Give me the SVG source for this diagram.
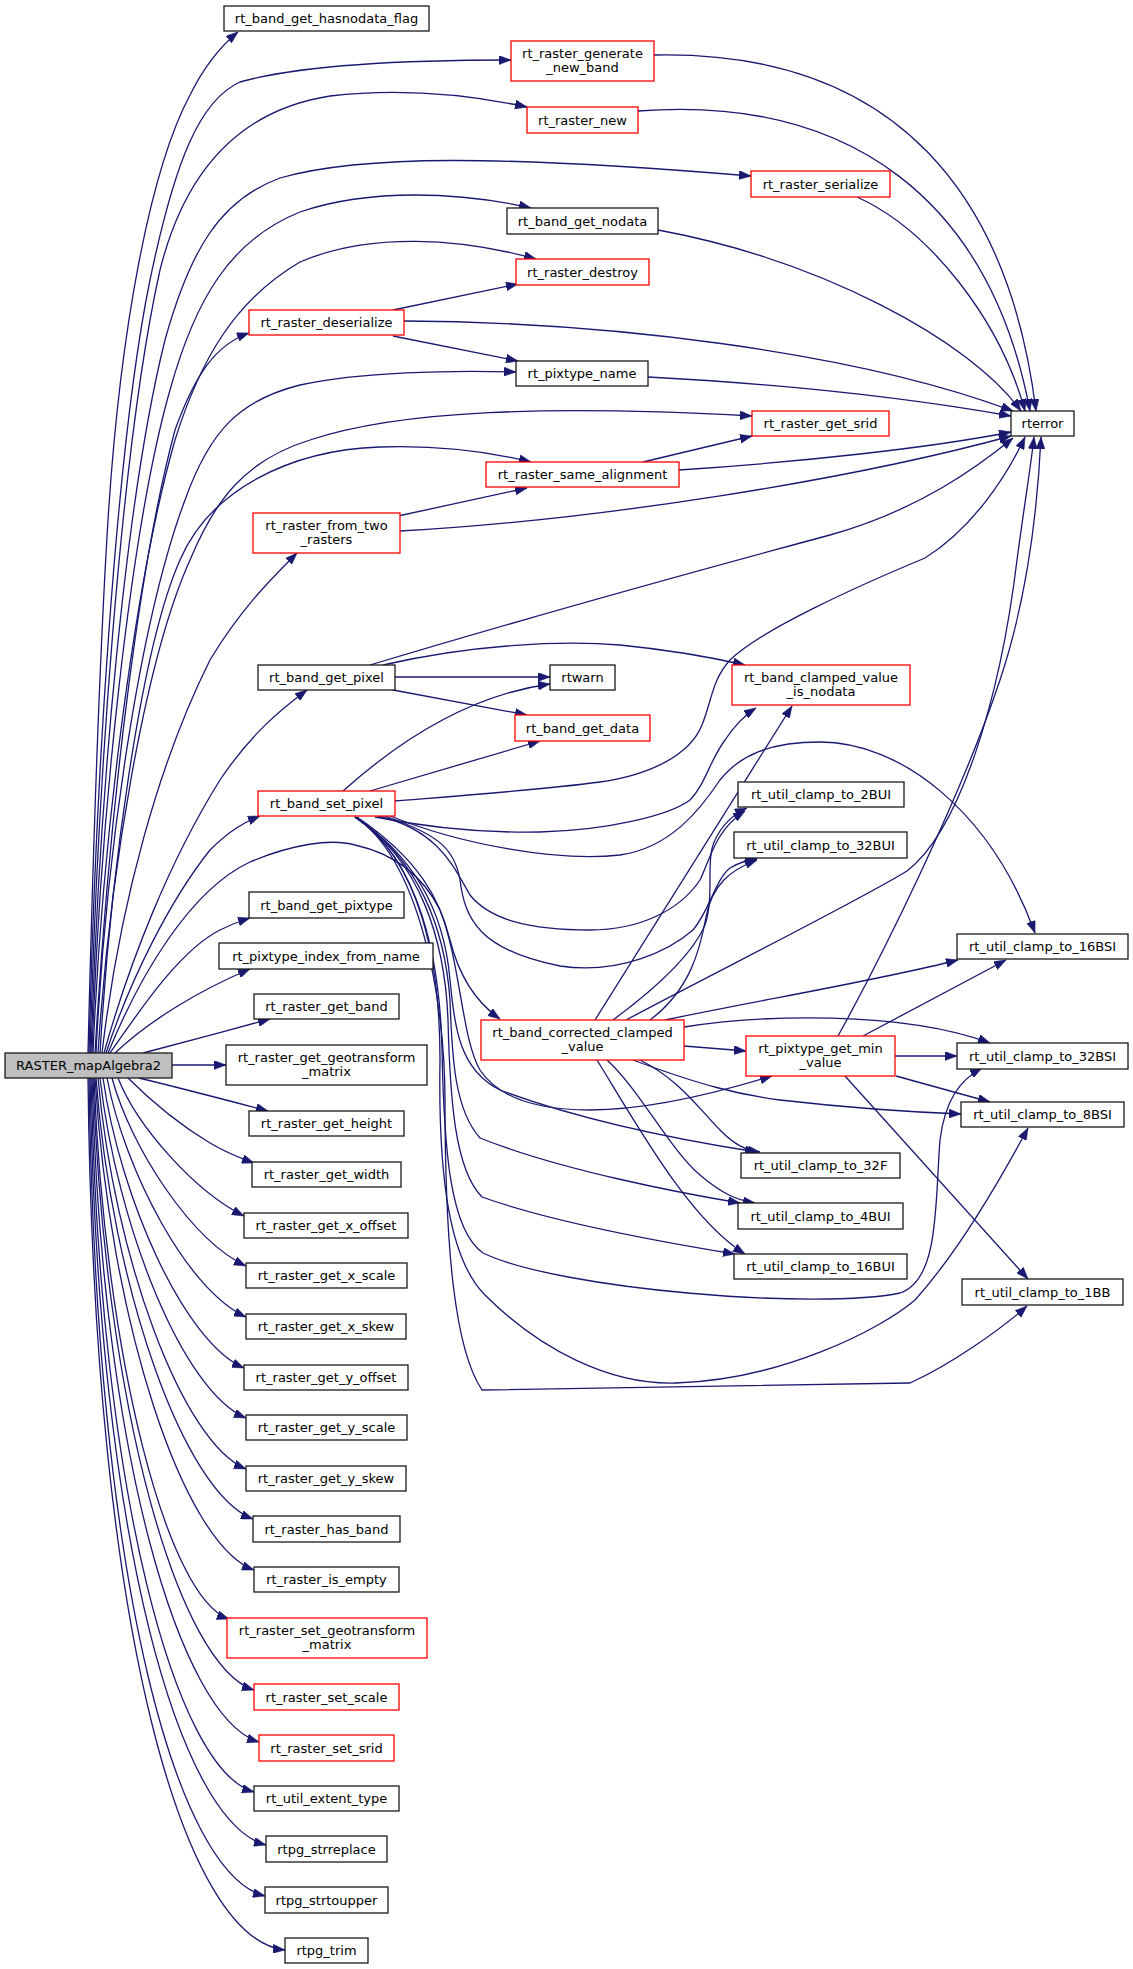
<svg xmlns="http://www.w3.org/2000/svg" width="1133" height="1969" viewBox="0 0 1133 1969">
<defs>
<marker id="ah" markerUnits="userSpaceOnUse" markerWidth="12" markerHeight="9" refX="12" refY="4.5" orient="auto">
<path d="M0,0 L12,4.5 L0,9 Z" fill="#191970" stroke="#191970" stroke-width="0.5"/>
</marker>
</defs>
<style>
.n rect{fill:#ffffff;stroke:#1a1a1a;stroke-width:1.3}
.r rect{fill:#ffffff;stroke:#ff0000;stroke-width:1.3}
.root rect{fill:#bfbfbf;stroke:#1a1a1a;stroke-width:1.3}
text{font-family:"DejaVu Sans","Liberation Sans",sans-serif;font-size:13px;fill:#000;text-anchor:middle}
#edges path{fill:none;stroke:#191970;stroke-width:1.3;marker-end:url(#ah)}
</style>
<rect width="1133" height="1969" fill="#ffffff"/>
<g id="edges">
<path d="M88,1053 C93,850 100,650 108,520 C120,330 150,170 190,95 C205,65 222,45 238,32"/>
<path d="M89,1053 C95,800 115,450 150,280 C175,160 200,100 240,82 C300,65 400,60 511,60"/>
<path d="M90,1053 C97,800 120,450 160,270 C185,170 240,110 330,96 C400,88 470,95 527,107"/>
<path d="M91,1053 C99,800 125,500 165,340 C190,250 220,200 280,178 C360,155 500,155 751,176"/>
<path d="M92,1053 C100,820 130,530 170,390 C195,300 230,240 300,212 C370,188 460,192 531,208"/>
<path d="M93,1053 C102,840 135,580 175,440 C200,360 235,300 300,262 C370,232 460,238 536,259"/>
<path d="M95,1053 C110,800 140,560 175,430 C195,375 215,345 249,333"/>
<path d="M96,1053 C106,850 140,620 185,500 C210,430 240,400 300,385 C360,372 450,370 516,372"/>
<path d="M98,1053 C110,870 145,660 190,560 C215,500 245,460 310,440 C400,410 550,405 752,416"/>
<path d="M100,1053 C110,880 140,650 180,560 C210,490 290,450 380,447 C440,445 490,452 531,462"/>
<path d="M102,1053 C120,900 160,760 210,660 C240,610 270,580 297,553"/>
<path d="M104,1053 C130,960 170,860 220,780 C250,735 280,710 307,690"/>
<path d="M106,1053 C130,980 170,900 210,850 C230,830 245,822 260,816"/>
<path d="M108,1053 C140,975 190,890 250,862 C290,845 330,838 355,845 C400,855 425,880 440,910 C460,960 462,1040 480,1070 C500,1100 540,1110 590,1110 C650,1110 720,1092 772,1076"/>
<path d="M110,1053 C140,1010 180,950 220,930 C230,925 240,921 250,918"/>
<path d="M115,1053 C150,1020 200,990 250,969"/>
<path d="M143,1053 C180,1043 230,1030 270,1019"/>
<path d="M172,1065 L226,1065"/>
<path d="M139,1078 C180,1088 230,1101 268,1111"/>
<path d="M128,1078 C150,1100 180,1125 210,1143 C225,1152 240,1158 254,1163"/>
<path d="M118,1078 C137,1126 194,1191 244,1216"/>
<path d="M112,1078 C131,1148 191,1240 246,1266"/>
<path d="M107,1078 C125,1172 188,1291 246,1317"/>
<path d="M103,1078 C120,1198 184,1342 244,1368"/>
<path d="M100,1078 C117,1226 183,1392 246,1418"/>
<path d="M98,1078 C114,1256 182,1443 246,1469"/>
<path d="M96,1078 C112,1288 184,1493 253,1519"/>
<path d="M95,1078 C110,1322 183,1544 254,1570"/>
<path d="M94,1078 C105,1358 167,1598 229,1619"/>
<path d="M93,1078 C105,1411 179,1666 254,1690"/>
<path d="M92,1078 C102,1454 180,1718 259,1742"/>
<path d="M91,1078 C100,1497 176,1770 254,1792"/>
<path d="M90,1078 C98,1544 180,1822 266,1845"/>
<path d="M89,1078 C96,1592 178,1874 265,1896"/>
<path d="M88,1078 C94,1644 186,1940 285,1950"/>
<path d="M654,55 C900,50 1010,200 1036,411"/>
<path d="M638,111 C850,95 990,200 1030,411"/>
<path d="M857,197 C930,230 1000,320 1025,411"/>
<path d="M658,230 C820,260 970,340 1021,411"/>
<path d="M404,321 C600,322 850,350 1013,411"/>
<path d="M393,310 L518,284"/>
<path d="M393,336 L518,361"/>
<path d="M648,377 C800,385 920,400 1011,416"/>
<path d="M643,462 L752,436"/>
<path d="M679,470 C800,462 930,448 1011,432"/>
<path d="M398,516 L527,488"/>
<path d="M400,531 C600,520 850,480 1011,436"/>
<path d="M370,665 C520,620 700,570 830,535 C920,510 980,465 1013,438"/>
<path d="M383,665 C470,645 560,640 620,645 C670,650 710,657 745,665"/>
<path d="M395,677 L550,677"/>
<path d="M393,690 L527,715"/>
<path d="M343,791 C400,740 470,695 550,684"/>
<path d="M370,791 L540,741"/>
<path d="M394,801 C470,795 540,790 600,782 C650,775 690,755 702,725 C712,700 712,680 730,660 C760,630 860,585 925,558 C970,530 1005,480 1025,437"/>
<path d="M375,817 C430,828 490,833 540,832 C610,830 670,815 690,800 C705,785 710,760 725,740 C735,725 745,715 756,708"/>
<path d="M378,816 C440,830 455,870 470,895 C490,920 530,930 590,930 C640,930 680,910 700,880 C710,860 715,830 745,811"/>
<path d="M385,816 C440,835 455,850 460,880 C465,920 480,950 560,966 C620,975 670,950 693,930 C710,910 715,880 730,868 C740,862 748,860 757,859"/>
<path d="M388,815 C460,845 560,862 620,855 C670,848 700,810 720,780 C740,755 770,742 820,742 C900,742 990,810 1035,933"/>
<path d="M357,817 C420,860 440,900 450,940 C460,980 480,1005 500,1019"/>
<path d="M355,817 C420,860 445,920 450,980 C455,1030 460,1070 500,1090 C580,1120 680,1140 757,1152"/>
<path d="M355,817 C420,860 445,930 450,1000 C452,1060 455,1110 480,1138 C560,1170 680,1193 740,1203"/>
<path d="M355,817 C420,860 445,940 448,1020 C450,1100 455,1170 482,1197 C560,1225 680,1245 735,1254"/>
<path d="M355,817 C420,860 440,960 442,1050 C444,1150 450,1230 483,1253 C560,1290 820,1310 900,1293 C940,1280 935,1200 940,1140 C945,1100 960,1080 982,1068"/>
<path d="M355,817 C420,860 440,960 440,1060 C438,1180 450,1260 485,1295 C540,1350 610,1385 676,1383 C780,1380 880,1330 915,1300 C960,1250 1000,1180 1028,1128"/>
<path d="M355,817 C420,860 445,1000 445,1100 C445,1250 455,1350 482,1390 L910,1383 C950,1365 1000,1330 1027,1306"/>
<path d="M595,1020 L792,706"/>
<path d="M613,1020 C640,1000 690,960 705,925 C715,895 705,860 715,840 C722,825 732,815 747,808"/>
<path d="M650,1020 C690,990 700,950 706,917 C712,885 730,870 757,860"/>
<path d="M626,1020 C720,970 860,900 907,871 C960,830 1000,700 1017,560 C1025,500 1031,465 1034,437"/>
<path d="M665,1020 C760,1000 880,980 958,960"/>
<path d="M684,1027 C760,1015 900,1010 990,1043"/>
<path d="M684,1046 L746,1051"/>
<path d="M633,1060 C700,1085 740,1095 780,1100 C850,1108 910,1112 961,1114"/>
<path d="M640,1060 C680,1080 700,1110 720,1130 C735,1145 745,1150 760,1152"/>
<path d="M607,1060 C640,1090 670,1150 700,1175 C720,1192 735,1200 755,1203"/>
<path d="M597,1060 C640,1130 690,1220 745,1254"/>
<path d="M838,1036 C880,960 960,800 1000,680 C1030,590 1038,500 1041,437"/>
<path d="M863,1036 L1006,960"/>
<path d="M895,1056 L957,1056"/>
<path d="M896,1076 L990,1102"/>
<path d="M845,1076 L1028,1279"/>
</g>
<g id="n_root" class="root"><rect x="5" y="1053" width="167" height="25"/><text x="88.5" y="1070">RASTER_mapAlgebra2</text></g>
<g id="n_hasnodata" class="n"><rect x="224" y="6" width="205" height="25"/><text x="326.5" y="23">rt_band_get_hasnodata_flag</text></g>
<g id="n_generate" class="r"><rect x="511" y="41" width="143" height="40"/><text x="582.5" y="57.5">rt_raster_generate</text><text x="582.5" y="72">_new_band</text></g>
<g id="n_raster_new" class="r"><rect x="527" y="107" width="111" height="26"/><text x="582.5" y="124.6">rt_raster_new</text></g>
<g id="n_serialize" class="r"><rect x="751" y="171" width="139" height="26"/><text x="820.5" y="188.6">rt_raster_serialize</text></g>
<g id="n_get_nodata" class="n"><rect x="507" y="208" width="151" height="26"/><text x="582.5" y="225.6">rt_band_get_nodata</text></g>
<g id="n_destroy" class="r"><rect x="516" y="259" width="133" height="26"/><text x="582.5" y="276.6">rt_raster_destroy</text></g>
<g id="n_deserialize" class="r"><rect x="249" y="310" width="155" height="25"/><text x="326.5" y="327">rt_raster_deserialize</text></g>
<g id="n_pixtype_name" class="n"><rect x="516" y="361" width="132" height="25"/><text x="582" y="378">rt_pixtype_name</text></g>
<g id="n_get_srid" class="r"><rect x="752" y="411" width="137" height="25"/><text x="820.5" y="428">rt_raster_get_srid</text></g>
<g id="n_rterror" class="n"><rect x="1011" y="411" width="63" height="25"/><text x="1042.5" y="428">rterror</text></g>
<g id="n_same_alignment" class="r"><rect x="486" y="462" width="193" height="25"/><text x="582.5" y="479">rt_raster_same_alignment</text></g>
<g id="n_from_two" class="r"><rect x="253" y="513" width="147" height="40"/><text x="326.5" y="529.5">rt_raster_from_two</text><text x="326.5" y="544">_rasters</text></g>
<g id="n_get_pixel" class="n"><rect x="258" y="665" width="137" height="25"/><text x="326.5" y="682">rt_band_get_pixel</text></g>
<g id="n_rtwarn" class="n"><rect x="550" y="665" width="65" height="25"/><text x="582.5" y="682">rtwarn</text></g>
<g id="n_clamped_nodata" class="r"><rect x="732" y="665" width="178" height="40"/><text x="821" y="681.5">rt_band_clamped_value</text><text x="821" y="696">_is_nodata</text></g>
<g id="n_get_data" class="r"><rect x="515" y="715" width="135" height="26"/><text x="582.5" y="732.6">rt_band_get_data</text></g>
<g id="n_set_pixel" class="r"><rect x="258" y="791" width="137" height="25"/><text x="326.5" y="808">rt_band_set_pixel</text></g>
<g id="n_2BUI" class="n"><rect x="738" y="782" width="166" height="25"/><text x="821" y="799">rt_util_clamp_to_2BUI</text></g>
<g id="n_32BUI" class="n"><rect x="734" y="832" width="173" height="26"/><text x="820.5" y="849.6">rt_util_clamp_to_32BUI</text></g>
<g id="n_get_pixtype" class="n"><rect x="249" y="892" width="155" height="26"/><text x="326.5" y="909.6">rt_band_get_pixtype</text></g>
<g id="n_16BSI" class="n"><rect x="957" y="934" width="171" height="25"/><text x="1042.5" y="951">rt_util_clamp_to_16BSI</text></g>
<g id="n_index_from_name" class="n"><rect x="219" y="943" width="214" height="26"/><text x="326" y="960.6">rt_pixtype_index_from_name</text></g>
<g id="n_get_band" class="n"><rect x="254" y="994" width="145" height="25"/><text x="326.5" y="1011">rt_raster_get_band</text></g>
<g id="n_corrected" class="r"><rect x="481" y="1020" width="203" height="40"/><text x="582.5" y="1036.5">rt_band_corrected_clamped</text><text x="582.5" y="1051">_value</text></g>
<g id="n_get_min" class="r"><rect x="746" y="1036" width="149" height="40"/><text x="820.5" y="1052.5">rt_pixtype_get_min</text><text x="820.5" y="1067">_value</text></g>
<g id="n_32BSI" class="n"><rect x="957" y="1043" width="171" height="26"/><text x="1042.5" y="1060.6">rt_util_clamp_to_32BSI</text></g>
<g id="n_get_geo" class="n"><rect x="226" y="1045" width="201" height="40"/><text x="326.5" y="1061.5">rt_raster_get_geotransform</text><text x="326.5" y="1076">_matrix</text></g>
<g id="n_8BSI" class="n"><rect x="961" y="1102" width="163" height="25"/><text x="1042.5" y="1119">rt_util_clamp_to_8BSI</text></g>
<g id="n_get_height" class="n"><rect x="249" y="1111" width="155" height="25"/><text x="326.5" y="1128">rt_raster_get_height</text></g>
<g id="n_32F" class="n"><rect x="741" y="1153" width="159" height="25"/><text x="820.5" y="1170">rt_util_clamp_to_32F</text></g>
<g id="n_get_width" class="n"><rect x="252" y="1162" width="149" height="25"/><text x="326.5" y="1179">rt_raster_get_width</text></g>
<g id="n_4BUI" class="n"><rect x="738" y="1203" width="165" height="26"/><text x="820.5" y="1220.6">rt_util_clamp_to_4BUI</text></g>
<g id="n_x_offset" class="n"><rect x="244" y="1213" width="164" height="25"/><text x="326" y="1230">rt_raster_get_x_offset</text></g>
<g id="n_16BUI" class="n"><rect x="734" y="1254" width="173" height="25"/><text x="820.5" y="1271">rt_util_clamp_to_16BUI</text></g>
<g id="n_1BB" class="n"><rect x="962" y="1279" width="161" height="26"/><text x="1042.5" y="1296.6">rt_util_clamp_to_1BB</text></g>
<g id="n_x_scale" class="n"><rect x="246" y="1263" width="161" height="25"/><text x="326.5" y="1280">rt_raster_get_x_scale</text></g>
<g id="n_x_skew" class="n"><rect x="246" y="1314" width="160" height="25"/><text x="326" y="1331">rt_raster_get_x_skew</text></g>
<g id="n_y_offset" class="n"><rect x="244" y="1365" width="164" height="25"/><text x="326" y="1382">rt_raster_get_y_offset</text></g>
<g id="n_y_scale" class="n"><rect x="246" y="1415" width="161" height="25"/><text x="326.5" y="1432">rt_raster_get_y_scale</text></g>
<g id="n_y_skew" class="n"><rect x="246" y="1466" width="160" height="25"/><text x="326" y="1483">rt_raster_get_y_skew</text></g>
<g id="n_has_band" class="n"><rect x="253" y="1516" width="147" height="26"/><text x="326.5" y="1533.6">rt_raster_has_band</text></g>
<g id="n_is_empty" class="n"><rect x="254" y="1567" width="145" height="25"/><text x="326.5" y="1584">rt_raster_is_empty</text></g>
<g id="n_set_geo" class="r"><rect x="227" y="1618" width="200" height="40"/><text x="327" y="1634.5">rt_raster_set_geotransform</text><text x="327" y="1649">_matrix</text></g>
<g id="n_set_scale" class="r"><rect x="254" y="1684" width="145" height="26"/><text x="326.5" y="1701.6">rt_raster_set_scale</text></g>
<g id="n_set_srid" class="r"><rect x="259" y="1735" width="135" height="26"/><text x="326.5" y="1752.6">rt_raster_set_srid</text></g>
<g id="n_extent_type" class="n"><rect x="254" y="1786" width="145" height="25"/><text x="326.5" y="1803">rt_util_extent_type</text></g>
<g id="n_strreplace" class="n"><rect x="266" y="1836" width="121" height="26"/><text x="326.5" y="1853.6">rtpg_strreplace</text></g>
<g id="n_strtoupper" class="n"><rect x="265" y="1887" width="123" height="26"/><text x="326.5" y="1904.6">rtpg_strtoupper</text></g>
<g id="n_trim" class="n"><rect x="285" y="1938" width="83" height="25"/><text x="326.5" y="1955">rtpg_trim</text></g>
</svg>
